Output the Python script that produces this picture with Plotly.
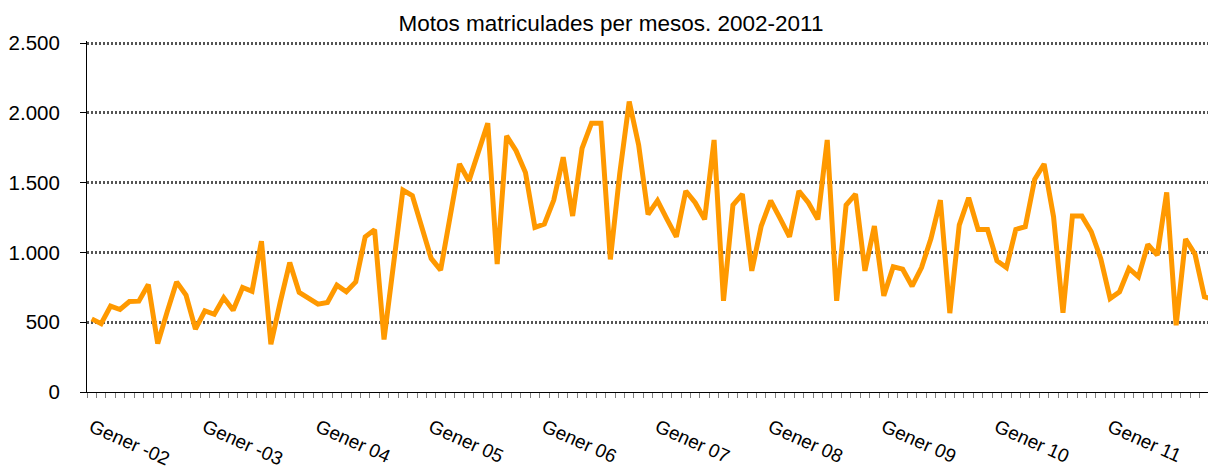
import plotly.graph_objects as go

# Monthly motorcycle registrations, Jan 2002 - Dec 2011
v2002 = [524, 490, 615, 591, 648, 651, 770, 347, 574, 789, 694, 450]
v2003 = [581, 557, 675, 586, 749, 722, 1081, 342, 646, 928, 713, 670]
v2004 = [629, 641, 765, 718, 789, 1112, 1163, 376, 921, 1447, 1407, 1184]
v2005 = [957, 873, 1256, 1634, 1512, 1722, 1926, 916, 1835, 1729, 1572, 1179]
v2006 = [1203, 1375, 1682, 1261, 1746, 1926, 1926, 950, 1567, 2081, 1770, 1273]
v2007 = [1371, 1238, 1112, 1440, 1356, 1237, 1806, 653, 1340, 1418, 868, 1189]
v2008 = [1371, 1244, 1112, 1440, 1356, 1237, 1806, 653, 1340, 1418, 868, 1189]
v2009 = [689, 897, 880, 758, 892, 1100, 1375, 565, 1196, 1392, 1165, 1165]
v2010 = [940, 892, 1165, 1184, 1524, 1634, 1256, 567, 1261, 1261, 1148, 957]
v2011 = [670, 718, 885, 825, 1057, 981, 1430, 478, 1096, 988, 682, 660]

values = v2002 + v2003 + v2004 + v2005 + v2006 + v2007 + v2008 + v2009 + v2010 + v2011
months = list(range(len(values)))

year_labels = ["Gener -02", "Gener -03", "Gener 04", "Gener 05", "Gener 06",
               "Gener 07", "Gener 08", "Gener 09", "Gener 10", "Gener 11"]
label_pos = [12 * i for i in range(len(year_labels))]
boundaries = [i - 0.5 for i in range(len(values) + 1)]
y_ticks = [0, 500, 1000, 1500, 2000, 2500]

FONT = "Liberation Sans, Arial, sans-serif"
W, H = 1208, 470

fig = go.Figure()
fig.add_trace(go.Scatter(
    x=months, y=values, mode="lines",
    line=dict(color="#FF9900", width=5),
    hoverinfo="skip",
))

fig.update_layout(
    width=W, height=H,
    margin=dict(l=87, r=0, t=41, b=78),
    paper_bgcolor="white", plot_bgcolor="white",
    separators=",.",
    showlegend=False,
    font=dict(family=FONT, color="black"),
    title=dict(text="Motos matriculades per mesos. 2002-2011",
               x=611 / W, xanchor="center", xref="container",
               y=1 - 23 / H, yanchor="middle", yref="container",
               font=dict(family=FONT, size=22.5, color="black")),
)

fig.update_xaxes(
    range=[-0.5, 118.38], automargin=False,
    tickmode="array", tickvals=label_pos, ticktext=year_labels,
    tickangle=24, ticks="", ticklabelstandoff=16,
    tickfont=dict(family=FONT, size=19, color="black"),
    showline=True, linecolor="black", linewidth=1,
    showgrid=False, zeroline=False,
    minor=dict(tickmode="array", tickvals=boundaries, ticks="outside",
               ticklen=5, tickcolor="#808080", tickwidth=1, showgrid=False),
)

fig.update_yaxes(
    range=[0, 2515], tickvals=y_ticks,
    tickformat=",d", automargin=False,
    ticks="outside", ticklen=6, tickcolor="black", ticklabelstandoff=16,
    tickfont=dict(family=FONT, size=20.5, color="black"),
    showline=True, linecolor="black", linewidth=1,
    showgrid=True, gridcolor="#555555", gridwidth=2.5, griddash="2px,2px",
    zeroline=False,
)

fig.write_html(
    "out.html",
    config={"displayModeBar": False},
    post_script="document.body.style.margin='0';document.body.style.overflow='hidden';",
)
